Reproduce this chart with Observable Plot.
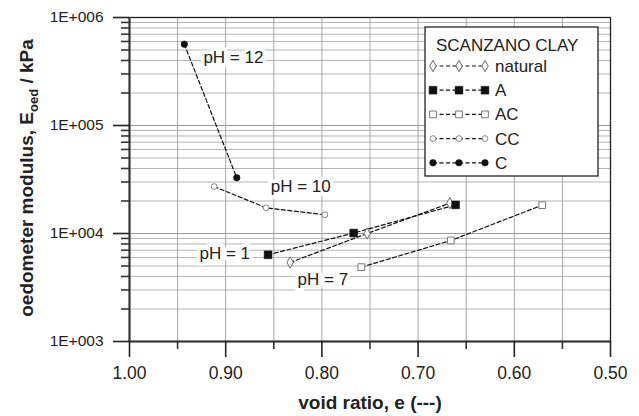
<!DOCTYPE html>
<html><head><meta charset="utf-8">
<script src="https://cdn.jsdelivr.net/npm/d3@7"></script>
<script src="https://cdn.jsdelivr.net/npm/@observablehq/plot@0.6"></script>
<style>
body{margin:0;background:#fff;font-family:"Liberation Sans",Arial,sans-serif}
#wrap{position:relative;width:639px;height:416px}
</style></head><body><div id="wrap"></div>
<script>
// ---- data ----
const seriesNames = ["natural", "A", "AC", "CC", "C"];
const naturalX = [0.833, 0.753, 0.667];
const naturalY = [5390, 10000, 19100];
const aX = [0.856, 0.767, 0.661];
const aY = [6350, 10100, 18400];
const acX = [0.759, 0.666, 0.571];
const acY = [4880, 8610, 18300];
const ccX = [0.912, 0.858, 0.797];
const ccY = [27200, 17300, 14900];
const cX = [0.943, 0.8885];
const cY = [566000, 32800];
const phLabels = ["pH = 12", "pH = 10", "pH = 1", "pH = 7"];
const phX = [0.892, 0.822, 0.901, 0.799];
const phY = [427000, 27200, 6530, 3750];
const xTicks = [1.0, 0.9, 0.8, 0.7, 0.6, 0.5];
const xTickLabels = ["1.00", "0.90", "0.80", "0.70", "0.60", "0.50"];
const xMinor = [0.95, 0.85, 0.75, 0.65, 0.55];
const yTicks = [1e3, 1e4, 1e5, 1e6];
const yTickLabels = ["1E+003", "1E+004", "1E+005", "1E+006"];
const yMinorMult = [2, 3, 4, 5, 6, 7, 8, 9];
const legendTitle = "SCANZANO CLAY";

// ---- build ----
const xs = [naturalX, aX, acX, ccX, cX];
const ys = [naturalY, aY, acY, ccY, cY];
const rows = [];
seriesNames.forEach((s, k) => xs[k].forEach((x, i) => rows.push({series: s, x, y: ys[k][i]})));
const yMinor = [];
yTicks.slice(0, -1).forEach(d => yMinorMult.forEach(m => yMinor.push(d * m)));
const styles = {
  natural: {symbol: "diamond", fill: "white", stroke: "#666", r: 3.4, sw: 1},
  A: {symbol: "square", fill: "#111", stroke: "#111", r: 4.4, sw: 0.5},
  AC: {symbol: "square", fill: "white", stroke: "#777", r: 3.8, sw: 1},
  CC: {symbol: "circle", fill: "white", stroke: "#888", r: 2.9, sw: 1},
  C: {symbol: "circle", fill: "#111", stroke: "#111", r: 3.3, sw: 0.5}
};
const labels = phLabels.map((t, i) => ({t, x: phX[i], y: phY[i]}));

const marks = [
  Plot.ruleY(yMinor, {stroke: "#b4b4b4", strokeWidth: 1}),
  Plot.ruleY(yTicks, {stroke: "#999", strokeWidth: 1}),
  Plot.ruleX(xTicks.concat(xMinor), {stroke: "#a6a6a6", strokeWidth: 1}),
  Plot.text(labels, {x: "x", y: "y", text: "t", fontSize: 17, fill: "#222", stroke: "white", strokeWidth: 7, strokeLinejoin: "miter"})
];
seriesNames.forEach(s => {
  const d = rows.filter(r => r.series === s);
  marks.push(Plot.line(d, {x: "x", y: "y", stroke: "#111", strokeWidth: 1.2, strokeDasharray: "4,2.5"}));
});
seriesNames.forEach(s => {
  const d = rows.filter(r => r.series === s);
  const st = styles[s];
  marks.push(Plot.dot(d, {x: "x", y: "y", symbol: () => st.symbol, r: st.r, fill: st.fill, stroke: st.stroke, strokeWidth: st.sw}));
});
marks.push(
  Plot.frame({stroke: "#222", strokeWidth: 1.3}),
  Plot.ruleX([1.0], {stroke: "#333", strokeWidth: 2}),
  Plot.ruleY([1e3], {stroke: "#333", strokeWidth: 2}),
  Plot.axisY(yTicks, {tickSize: 16, tickPadding: 10, color: "#222", strokeWidth: 1.6, fontSize: 15.5,
    tickFormat: d => yTickLabels[yTicks.indexOf(d)], label: null}),
  Plot.axisY(yMinor, {tickSize: 8, color: "#333", strokeWidth: 1.6, tickFormat: () => "", label: null}),
  Plot.axisX(xTicks, {tickSize: 16, tickPadding: 9, color: "#222", strokeWidth: 1.6, fontSize: 17.5,
    tickFormat: d => xTickLabels[xTicks.indexOf(d)], label: null}),
  Plot.axisX(xMinor, {tickSize: 8, color: "#333", strokeWidth: 1.6, tickFormat: () => "", label: null})
);

const chart = Plot.plot({
  width: 639, height: 416,
  marginLeft: 129, marginRight: 29, marginTop: 17, marginBottom: 75,
  style: {fontFamily: "Liberation Sans, Arial, sans-serif", background: "white", overflow: "visible"},
  x: {domain: [1.0, 0.5]},
  y: {type: "log", domain: [1e3, 1e6]},
  marks
});
document.getElementById("wrap").appendChild(chart);

// axis titles
const svg = d3.select(chart);
const ylab = svg.append("text")
  .attr("transform", "translate(33,178) rotate(-90)")
  .attr("text-anchor", "middle")
  .style("font-size", "19px").style("font-weight", "bold").attr("fill", "#222");
ylab.append("tspan").text("oedometer modulus, E");
ylab.append("tspan").attr("dy", 5).style("font-size", "13px").text("oed");
ylab.append("tspan").attr("dy", -5).text(" / kPa");
svg.append("text").attr("x", 370).attr("y", 409).attr("text-anchor", "middle")
  .style("font-size", "19px").style("font-weight", "bold").attr("fill", "#222")
  .text("void ratio, e (---)");

// legend
const lg = svg.append("g").attr("text-anchor", "start");
lg.append("rect").attr("x", 425).attr("y", 27).attr("width", 173).attr("height", 149)
  .attr("fill", "white").attr("stroke", "#222").attr("stroke-width", 1.3);
lg.append("text").attr("x", 436).attr("y", 51).style("font-size", "17px").attr("fill", "#222").text(legendTitle);
const symMap = {circle: d3.symbolCircle, square: d3.symbolSquare, diamond: d3.symbolDiamond};
seriesNames.forEach((s, i) => {
  const yy = 66 + i * 24.2;
  const st = styles[s];
  lg.append("line").attr("x1", 433).attr("x2", 485).attr("y1", yy).attr("y2", yy)
    .attr("stroke", "#111").attr("stroke-width", 1.2).attr("stroke-dasharray", "4,2.5");
  [433, 459, 485].forEach(px => {
    lg.append("path").attr("transform", `translate(${px},${yy})`)
      .attr("d", d3.symbol(symMap[st.symbol], Math.PI * st.r * st.r)())
      .attr("fill", st.fill).attr("stroke", st.stroke).attr("stroke-width", st.sw);
  });
  lg.append("text").attr("x", 495).attr("y", yy + 6).style("font-size", "17px").attr("fill", "#222").text(s);
});
</script></body></html>
